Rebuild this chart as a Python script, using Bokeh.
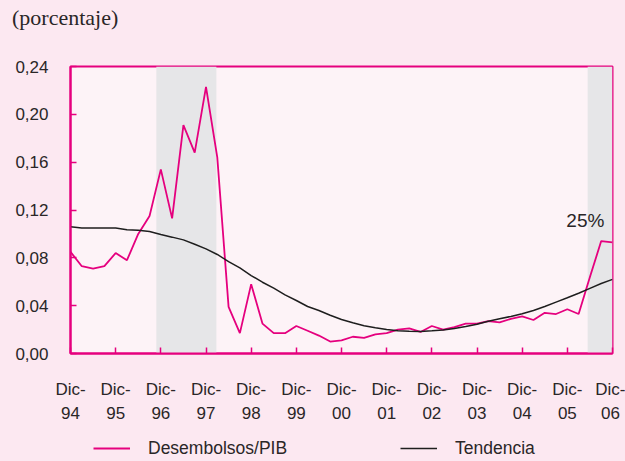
from bokeh.plotting import figure
from bokeh.layouts import column
from bokeh.models import (Range1d, FixedTicker, CustomJSTickFormatter, BoxAnnotation,
                          Label, Legend, LegendItem, ColumnDataSource, Div)
from bokeh.embed import file_html
from bokeh.resources import INLINE

# ---------------- data ----------------
quarters = []
for yy in ["94", "95", "96", "97", "98", "99", "00", "01", "02", "03", "04", "05", "06"]:
    if yy != "94":
        quarters += ["Mar-" + yy, "Jun-" + yy, "Sep-" + yy]
    quarters.append("Dic-" + yy)

desembolsos_pib = [0.085, 0.073, 0.071, 0.073, 0.084, 0.078, 0.100, 0.115, 0.154, 0.113,
                   0.191, 0.168, 0.223, 0.164, 0.039, 0.017, 0.058, 0.025, 0.017, 0.017,
                   0.023, 0.019, 0.015, 0.010, 0.011, 0.014, 0.013, 0.016, 0.017, 0.020,
                   0.021, 0.018, 0.023, 0.020, 0.022, 0.025, 0.025, 0.027, 0.026, 0.029,
                   0.031, 0.028, 0.034, 0.033, 0.037, 0.033, 0.064, 0.094, 0.093]

tendencia = [0.106, 0.105, 0.105, 0.105, 0.105, 0.1035, 0.103, 0.102, 0.0995, 0.0973,
             0.095, 0.0914, 0.0875, 0.0828, 0.0769, 0.0716, 0.0652, 0.0596, 0.0546, 0.049,
             0.0443, 0.0393, 0.036, 0.032, 0.0284, 0.0257, 0.0232, 0.0215, 0.020, 0.019,
             0.0187, 0.0185, 0.019, 0.0196, 0.021, 0.0225, 0.0245, 0.027, 0.029, 0.031,
             0.0332, 0.036, 0.0393, 0.043, 0.0466, 0.0504, 0.0545, 0.0585, 0.062]

year_labels = ["Dic-\n94", "Dic-\n95", "Dic-\n96", "Dic-\n97", "Dic-\n98", "Dic-\n99",
               "Dic-\n00", "Dic-\n01", "Dic-\n02", "Dic-\n03", "Dic-\n04", "Dic-\n05", "Dic-\n06"]
y_ticks = [0.0, 0.04, 0.08, 0.12, 0.16, 0.20, 0.24]
shaded_periods = [(1.90, 3.23), (11.45, 12.0)]   # in years after Dic-94
note_text = "25%"
note_x, note_y = 11.82, 0.111
title_text = "(porcentaje)"
series_names = ["Desembolsos/PIB", "Tendencia"]

# ---------------- styling ----------------
MAGENTA = "#e5007e"
TREND = "#1e1e1e"
TXT = "#2a2627"
OUTER = "#fce8f1"
INNER = "#fdf3f7"
SHADE = "#e6e6e8"
FONT = "Liberation Sans"

x = [i / 4 for i in range(len(quarters))]
src = ColumnDataSource(dict(x=x, d=desembolsos_pib, t=tendencia, q=quarters))

# ---------------- title ----------------
title_div = Div(text=('<div style="font-family:\'Liberation Serif\';font-size:22px;'
                      'line-height:25px;color:%s;margin:5px 0 0 12px;white-space:nowrap;">%s</div>'
                      % (TXT, title_text)),
                width=625, height=40, margin=0)

# ---------------- main chart ----------------
p = figure(width=625, height=390, output_backend="svg", toolbar_location=None,
           x_range=Range1d(0, 12), y_range=Range1d(0, 0.24),
           min_border_left=70, min_border_right=13, min_border_top=26, min_border_bottom=77)
p.border_fill_color = OUTER
p.background_fill_color = INNER
p.outline_line_color = MAGENTA
p.outline_line_width = 2
p.xgrid.visible = False
p.ygrid.visible = False

for a, b in shaded_periods:
    p.add_layout(BoxAnnotation(left=a, right=b, fill_color=SHADE, fill_alpha=1.0,
                               line_alpha=0, level="underlay"))

r1 = p.line("x", "d", source=src, line_color=MAGENTA, line_width=1.8)
r2 = p.line("x", "t", source=src, line_color=TREND, line_width=1.5)

ya = p.yaxis[0]
ya.ticker = FixedTicker(ticks=y_ticks)
ya.formatter = CustomJSTickFormatter(code="return tick.toFixed(2).replace('.', ',');")
ya.axis_line_color = MAGENTA
ya.axis_line_width = 2
ya.major_tick_line_color = MAGENTA
ya.major_tick_line_width = 1.5
ya.major_tick_in = 6
ya.major_tick_out = 0
ya.minor_tick_line_color = None
ya.major_label_standoff = 22
ya.major_label_text_font = FONT
ya.major_label_text_font_size = "17px"
ya.major_label_text_color = TXT

xa = p.xaxis[0]
xa.ticker = FixedTicker(ticks=list(range(len(year_labels))))
xa.major_label_overrides = {i: lab for i, lab in enumerate(year_labels)}
xa.axis_line_color = MAGENTA
xa.axis_line_width = 2
xa.major_tick_line_color = MAGENTA
xa.major_tick_line_width = 1.5
xa.major_tick_in = 6
xa.major_tick_out = 0
xa.minor_tick_line_color = None
xa.major_label_standoff = 26
xa.major_label_text_font = FONT
xa.major_label_text_font_size = "17px"
xa.major_label_text_color = TXT
xa.major_label_text_line_height = 1.3

p.add_layout(Label(x=note_x, y=note_y, text=note_text, text_align="right",
                   text_baseline="middle", text_font=FONT, text_font_size="19px",
                   text_color=TXT))

# ---------------- legend strip (same horizontal frame as the chart) ----------------
lg = figure(width=625, height=31, output_backend="svg", toolbar_location=None,
            x_range=Range1d(100, 101), y_range=Range1d(0, 1),
            x_axis_location=None, y_axis_location=None,
            min_border_left=70, min_border_right=13, min_border_top=0, min_border_bottom=0)
lg.grid.visible = False
lg.outline_line_color = None
lg.border_fill_color = OUTER
lg.background_fill_color = OUTER
k1 = lg.line("x", "d", source=src, line_color=MAGENTA, line_width=1.8)   # out of view; legend keys only
k2 = lg.line("x", "t", source=src, line_color=TREND, line_width=1.5)
for rend, name, xpos in [(k1, series_names[0], 23), (k2, series_names[1], 330)]:
    lg.add_layout(Legend(items=[LegendItem(label=name, renderers=[rend])],
                         location=(xpos, 2), glyph_width=37, glyph_height=22,
                         label_standoff=18, padding=0, margin=0,
                         background_fill_alpha=0, border_line_alpha=0,
                         label_text_font=FONT, label_text_font_size="17.5px",
                         label_text_color=TXT))

layout = column(title_div, p, lg, spacing=0)

html = file_html(layout, INLINE)
html = html.replace("<head>", "<head><style>html,body{background:%s;}</style>" % OUTER, 1)
open("out.html", "w").write(html)
